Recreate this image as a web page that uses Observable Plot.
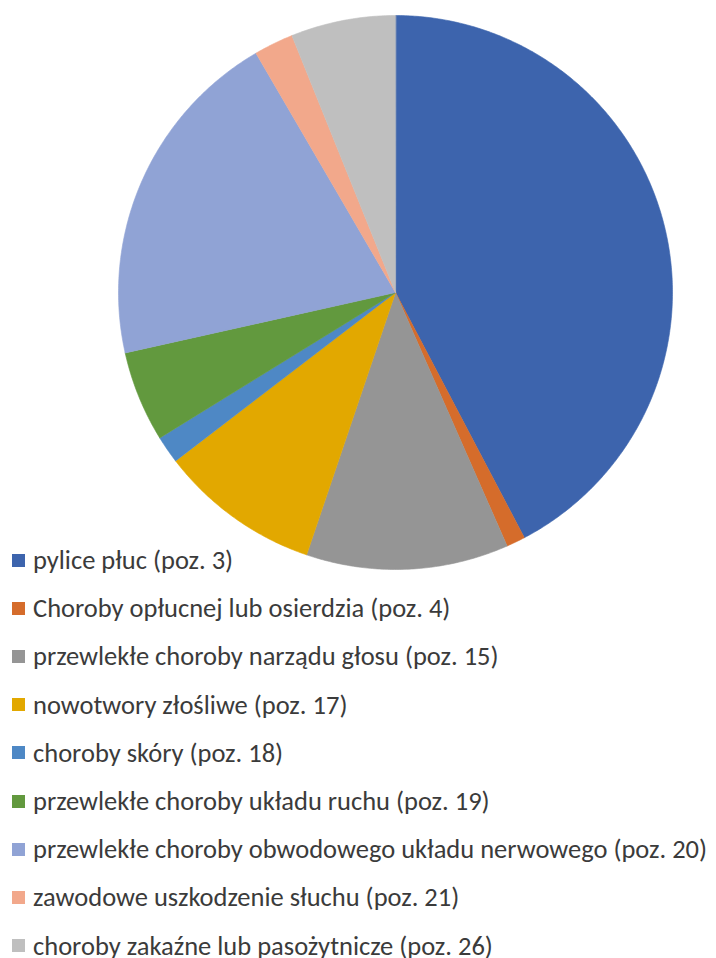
<!DOCTYPE html>
<html>
<head>
<meta charset="utf-8">
<script src="https://cdn.jsdelivr.net/npm/d3@7"></script>
<script src="https://cdn.jsdelivr.net/npm/@observablehq/plot@0.6"></script>
<style>
  html, body { margin: 0; padding: 0; background: #fff; }
  #wrap { position: relative; width: 716px; height: 958px; overflow: hidden; }
  #chart { position: absolute; left: 0; top: 0; }
  #legend { position: absolute; left: 0; top: 0; width: 716px; font-family: Carlito, "Liberation Sans", Arial, sans-serif; color: #3b3b3b; }
  .item { position: absolute; left: 12px; height: 20px; display: flex; align-items: center; white-space: nowrap; font-size: 26.5px; }
  .sw { width: 13px; height: 13px; margin-right: 8px; flex: none; }
</style>
</head>
<body>
<div id="wrap">
  <div id="chart"></div>
  <div id="legend"></div>
</div>
<script>
const categories = [
  "pylice płuc (poz. 3)",
  "Choroby opłucnej lub osierdzia (poz. 4)",
  "przewlekłe choroby narządu głosu (poz. 15)",
  "nowotwory złośliwe (poz. 17)",
  "choroby skóry (poz. 18)",
  "przewlekłe choroby układu ruchu (poz. 19)",
  "przewlekłe choroby obwodowego układu nerwowego (poz. 20)",
  "zawodowe uszkodzenie słuchu (poz. 21)",
  "choroby zakaźne lub pasożytnicze (poz. 26)"
];
const values = [42.3, 1.1, 11.8, 9.4, 1.6, 5.3, 20.1, 2.3, 6.1];
const colors = ["#3D64AD", "#D56C2B", "#959595", "#E2A800", "#4E88C5", "#62993E", "#90A3D5", "#F2A88B", "#BFBFBF"];

const data = categories.map((c, i) => ({ category: c, value: values[i], color: colors[i] }));
const arcs = d3.pie().sort(null).value(d => d.value).startAngle(0).endAngle(2 * Math.PI)(data);

const pts = [];
arcs.forEach((a, i) => {
  pts.push({ k: i, x: 0, y: 0, color: a.data.color });
  const n = Math.max(4, Math.ceil((a.endAngle - a.startAngle) / (Math.PI / 360)));
  for (let j = 0; j <= n; j++) {
    const t = a.startAngle + (a.endAngle - a.startAngle) * j / n;
    pts.push({ k: i, x: Math.sin(t), y: -Math.cos(t), color: a.data.color });
  }
});

const cx = 395, cy = 292, r = 277;
const plot = Plot.plot({
  width: 716,
  height: 575,
  margin: 0,
  x: { domain: [-1, 1], range: [cx - r, cx + r], axis: null },
  y: { domain: [-1, 1], range: [cy - r, cy + r], axis: null },
  color: { type: "identity" },
  marks: [
    Plot.line(pts, { x: "x", y: "y", z: "k", fill: "color", stroke: "color", strokeWidth: 0.6, curve: "linear-closed" })
  ]
});
document.getElementById("chart").appendChild(plot);

// legend
const legend = document.getElementById("legend");
categories.forEach((c, i) => {
  const it = document.createElement("div");
  it.className = "item";
  it.style.top = (560 + i * 48.2 - 10) + "px";
  const sw = document.createElement("span");
  sw.className = "sw";
  sw.style.background = colors[i];
  const tx = document.createElement("span");
  tx.textContent = c;
  it.appendChild(sw);
  it.appendChild(tx);
  legend.appendChild(it);
});
</script>
</body>
</html>
